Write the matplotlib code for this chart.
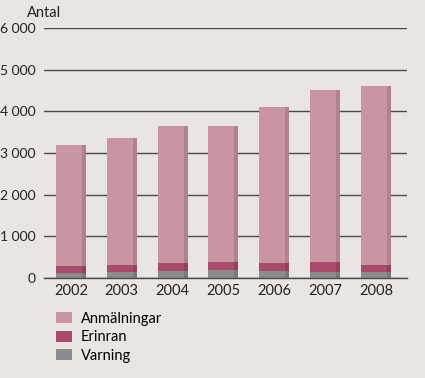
import matplotlib
matplotlib.use("Agg")
import matplotlib.pyplot as plt
from matplotlib.patches import Patch
from matplotlib.ticker import FuncFormatter

years = ["2002", "2003", "2004", "2005", "2006", "2007", "2008"]
varning = [130, 140, 165, 190, 175, 145, 140]
erinran = [165, 170, 185, 200, 190, 230, 165]
anmalningar = [2905, 3050, 3310, 3270, 3735, 4135, 4305]
series_names = ["Anmälningar", "Erinran", "Varning"]

bg = "#e9e5e2"
c_anm = "#c995a1"
c_eri = "#a84a6b"
c_var = "#8b8b8d"

plt.rcParams['font.family'] = ['Lato', 'DejaVu Sans']

fig = plt.figure(figsize=(4.25, 3.78), dpi=100, facecolor=bg)
ax = fig.add_axes([44/425, 1-278/378, 363/425, 250/378])
ax.set_facecolor(bg)

x = list(range(len(years)))
w = 0.59
bottom2 = varning
bottom3 = [a + b for a, b in zip(varning, erinran)]
ax.bar(x, varning, width=w, color=c_var, zorder=3)
ax.bar(x, erinran, bottom=bottom2, width=w, color=c_eri, zorder=3)
ax.bar(x, anmalningar, bottom=bottom3, width=w, color=c_anm, zorder=3)
# right-side shading strip for 3D look
totals = [a + b for a, b in zip(bottom3, anmalningar)]
xs = [xi + w/2 - 0.04 for xi in x]
ax.bar(xs, totals, width=0.08, color="black", alpha=0.12, zorder=4)

ax.set_xlim(-0.53, 6.61)
ax.set_ylim(0, 6000)
ax.set_yticks(range(0, 6001, 1000))
ax.yaxis.set_major_formatter(FuncFormatter(lambda v, p: f"{int(v):,}".replace(",", " ")))
ax.set_xticks(x)
ax.set_xticklabels(years)
ax.grid(axis='y', color="#4a4a4a", linewidth=1.0, zorder=1)
for s in ["top", "right", "left"]:
    ax.spines[s].set_visible(False)
ax.spines["bottom"].set_color("#4a4a4a")
ax.spines["bottom"].set_linewidth(1.0)
ax.spines["bottom"].set_zorder(5)
ax.tick_params(axis='both', length=0, colors="#222222")
ax.tick_params(axis='y', pad=6, labelsize=10)
ax.tick_params(axis='x', pad=4, labelsize=10.5)

fig.text(27/425, 1-13/378, "Antal", fontsize=10.5, color="#222222", va="center", ha="left")

handles = [Patch(facecolor=c_anm), Patch(facecolor=c_eri), Patch(facecolor=c_var)]
fig.legend(handles, series_names, loc="upper left", bbox_to_anchor=(50/425, 1-306/378),
           frameon=False, fontsize=10.5, handlelength=1.1, handleheight=0.8,
           labelspacing=0.3, handletextpad=0.6, borderaxespad=0)

fig.savefig("out.png", dpi=100, facecolor=bg)
